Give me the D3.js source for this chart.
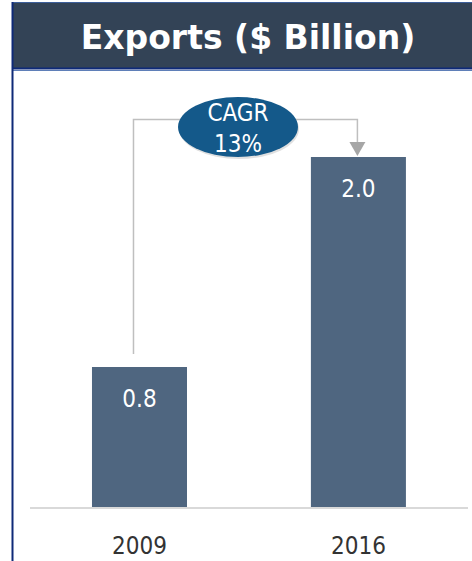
<!DOCTYPE html>
<html>
<head>
<meta charset="utf-8">
<script src="https://cdn.jsdelivr.net/npm/d3@7"></script>
<style>
  html, body { margin: 0; padding: 0; background: #fff; }
  svg { display: block; }
</style>
</head>
<body>
<svg id="chart" width="472" height="561"></svg>
<script>
// Export values, $ billion
const years = ["2009", "2016"];
const exportsValues = [0.8, 2.0];
const valueLabels = ["0.8", "2.0"];
const chartTitle = "Exports ($ Billion)";
const cagrLines = ["CAGR", "13%"];

const svg = d3.select("#chart");
const W = 472, H = 561;

// Title banner
svg.append("rect").attr("x", 12).attr("y", 2).attr("width", W - 12).attr("height", 66)
  .attr("fill", "#334356");
svg.append("line").attr("x1", 12).attr("x2", W).attr("y1", 2.5).attr("y2", 2.5)
  .attr("stroke", "#3d5f9a").attr("stroke-width", 1);
svg.append("line").attr("x1", 12).attr("x2", W).attr("y1", 68.5).attr("y2", 68.5)
  .attr("stroke", "#0f2a78").attr("stroke-width", 2);
svg.append("line").attr("x1", 12).attr("x2", W).attr("y1", 70.5).attr("y2", 70.5)
  .attr("stroke", "#5f7fb8").attr("stroke-width", 1);
svg.append("line").attr("x1", 12.5).attr("x2", 12.5).attr("y1", 2).attr("y2", H)
  .attr("stroke", "#0f2a78").attr("stroke-width", 2);

svg.append("text").attr("x", 248).attr("y", 49)
  .attr("text-anchor", "middle")
  .attr("font-family", "DejaVu Sans, Verdana, sans-serif")
  .attr("font-weight", "bold").attr("font-size", 33)
  .attr("fill", "#ffffff")
  .text(chartTitle);

// Scales
const baseline = 507;
const x = d3.scaleBand().domain(years).range([26.3, 471.6]).paddingInner(0.566).paddingOuter(0.3);
const y = d3.scaleLinear().domain([0, 2.0]).range([baseline, 157]);

// Bars
svg.selectAll("rect.bar").data(exportsValues).enter().append("rect")
  .attr("class", "bar")
  .attr("x", (d, i) => x(years[i]))
  .attr("y", d => y(d))
  .attr("width", x.bandwidth())
  .attr("height", d => baseline - y(d))
  .attr("fill", "#4f6680");

// Value labels inside bars
svg.selectAll("text.val").data(exportsValues).enter().append("text")
  .attr("class", "val")
  .attr("x", (d, i) => x(years[i]) + x.bandwidth() / 2)
  .attr("y", d => y(d) + 40)
  .attr("text-anchor", "middle")
  .attr("font-family", "DejaVu Sans Condensed, DejaVu Sans, sans-serif")
  .attr("font-size", 24)
  .attr("fill", "#ffffff")
  .text((d, i) => valueLabels[i]);

// Baseline axis
const axis = d3.axisBottom(x).tickSize(0).tickPadding(0);
const gAxis = svg.append("g").attr("transform", `translate(0,${baseline})`).call(axis);
gAxis.select(".domain").attr("stroke", "#d9d9d9").attr("stroke-width", 2)
  .attr("d", "M30,1H468");
gAxis.selectAll(".tick text")
  .attr("dy", 0).attr("y", 47)
  .attr("font-family", "DejaVu Sans Condensed, DejaVu Sans, sans-serif")
  .attr("font-size", 24)
  .attr("fill", "#333333");

// CAGR connector
const cx1 = x(years[0]) + x.bandwidth() / 2 - 6;
const cx2 = x(years[1]) + x.bandwidth() / 2 - 1;
const topY = 119.5;
const arrowTip = y(exportsValues[1]) - 1;
svg.append("path")
  .attr("d", `M${cx1},${y(exportsValues[0]) - 13}V${topY}H${cx2}V${arrowTip - 12}`)
  .attr("fill", "none").attr("stroke", "#bfbfbf").attr("stroke-width", 1.5);
svg.append("path")
  .attr("d", `M${cx2 - 8},${arrowTip - 14}L${cx2 + 8},${arrowTip - 14}L${cx2},${arrowTip}Z`)
  .attr("fill", "#a6a6a6");

// CAGR badge
const ex = 238, ey = 127;
svg.append("ellipse").attr("cx", ex + 1).attr("cy", ey + 2).attr("rx", 60).attr("ry", 30)
  .attr("fill", "#000").attr("opacity", 0.12);
svg.append("ellipse").attr("cx", ex).attr("cy", ey).attr("rx", 60).attr("ry", 30)
  .attr("fill", "#14598a");
svg.selectAll("text.cagr").data(cagrLines).enter().append("text")
  .attr("class", "cagr")
  .attr("x", ex)
  .attr("y", (d, i) => 121 + i * 31)
  .attr("text-anchor", "middle")
  .attr("font-family", "DejaVu Sans Condensed, DejaVu Sans, sans-serif")
  .attr("font-size", 24)
  .attr("fill", "#ffffff")
  .text(d => d);
</script>
</body>
</html>
